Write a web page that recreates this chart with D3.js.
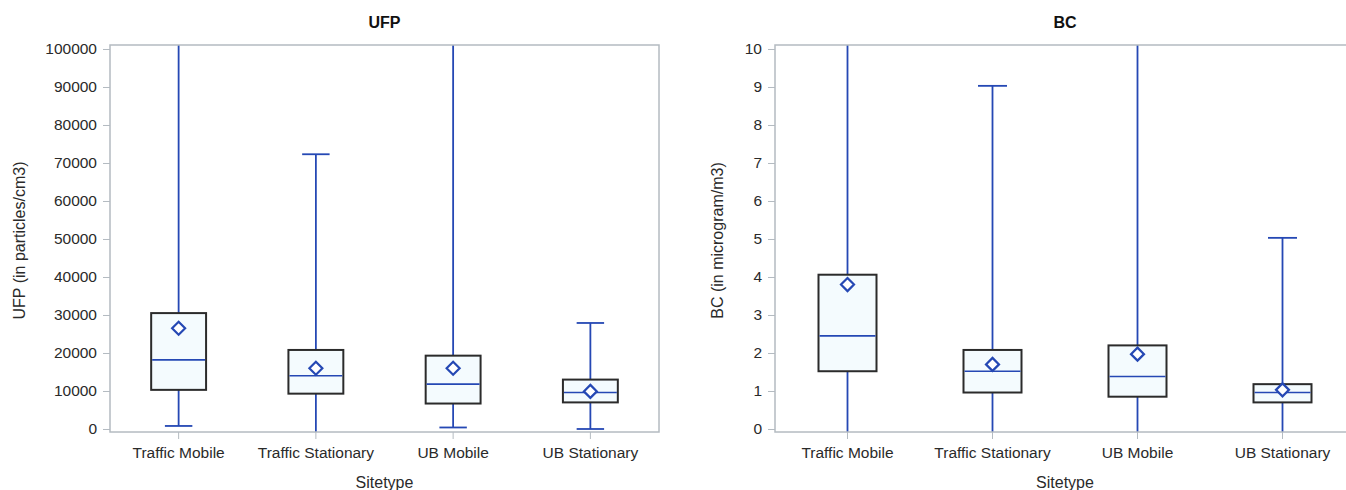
<!DOCTYPE html>
<html>
<head>
<meta charset="utf-8">
<script src="https://cdn.jsdelivr.net/npm/d3@7.9.0/dist/d3.min.js"></script>
<style>
  body { margin: 0; background: #fff; }
  svg { display: block; font-family: "Liberation Sans", Arial, sans-serif; }
  .tick text { fill: #2a2a2a; font-size: 15.5px; }
  .tick line { stroke: #b4bbc1; }
</style>
</head>
<body>
<svg id="chart" width="1346" height="490"></svg>
<script>
// ---------- Data ----------
const sitetypes = ["Traffic Mobile", "Traffic Stationary", "UB Mobile", "UB Stationary"];

// UFP (particles/cm3) - whisker ends past the axis are clipped
const ufpMin    = [800, -3000, 400, 0];
const ufpQ1     = [10300, 9300, 6700, 7000];
const ufpMedian = [18200, 14000, 11800, 9600];
const ufpQ3     = [30500, 20800, 19300, 13000];
const ufpMax    = [260000, 72300, 240000, 27900];
const ufpMean   = [26500, 16000, 16000, 9900];
const ufpTicks  = [0, 10000, 20000, 30000, 40000, 50000, 60000, 70000, 80000, 90000, 100000];

// BC (microgram/m3)
const bcMin    = [-0.3, -0.3, -0.3, -0.3];
const bcQ1     = [1.52, 0.96, 0.85, 0.70];
const bcMedian = [2.45, 1.52, 1.38, 0.96];
const bcQ3     = [4.06, 2.08, 2.20, 1.18];
const bcMax    = [30, 9.03, 28, 5.03];
const bcMean   = [3.80, 1.70, 1.97, 1.03];
const bcTicks  = [0, 1, 2, 3, 4, 5, 6, 7, 8, 9, 10];

// ---------- Style ----------
const blue = "#2548b4";
const boxFill = "#f4fbfe";
const boxStroke = "#2b2b2b";
const frameColor = "#b4bbc1";

const svg = d3.select("#chart");
svg.append("rect").attr("width", 1346).attr("height", 490).attr("fill", "#fff");

// ---------- Panel renderer ----------
function drawPanel(opt) {
  const { id, left, right, top, bottom, title, yLabel, yLabelX, domain, ticks, stats } = opt;

  const x = d3.scaleBand().domain(sitetypes).range([left, right]);
  const y = d3.scaleLinear().domain(domain).range([bottom, top]);
  const g = svg.append("g");

  // clip for whiskers that run off the plot
  svg.append("clipPath").attr("id", id)
    .append("rect")
    .attr("x", left).attr("y", top)
    .attr("width", right - left).attr("height", bottom - top);

  // y axis
  const yAxis = g.append("g")
    .attr("transform", `translate(${left},0)`)
    .call(d3.axisLeft(y).tickValues(ticks).tickSize(7).tickPadding(6).tickFormat(d3.format("d")));
  yAxis.select(".domain").remove();

  // x axis
  const xAxis = g.append("g")
    .attr("transform", `translate(0,${bottom})`)
    .call(d3.axisBottom(x).tickSize(7).tickPadding(8));
  xAxis.select(".domain").remove();

  // boxes
  const rows = sitetypes.map((s, i) => ({
    s, min: stats.min[i], q1: stats.q1[i], med: stats.median[i],
    q3: stats.q3[i], max: stats.max[i], mean: stats.mean[i]
  }));
  const bw = x.bandwidth() * 0.4;
  const cw = x.bandwidth() * 0.2;
  const plot = g.append("g").attr("clip-path", `url(#${id})`);

  rows.forEach(d => {
    const cx = x(d.s) + x.bandwidth() / 2;
    const b = plot.append("g");
    // whiskers
    b.append("line").attr("x1", cx).attr("x2", cx)
      .attr("y1", y(d.q3)).attr("y2", y(d.max))
      .attr("stroke", blue).attr("stroke-width", 1.8);
    b.append("line").attr("x1", cx).attr("x2", cx)
      .attr("y1", y(d.q1)).attr("y2", y(d.min))
      .attr("stroke", blue).attr("stroke-width", 1.8);
    // caps
    [d.min, d.max].forEach(v => {
      b.append("line").attr("x1", cx - cw / 2).attr("x2", cx + cw / 2)
        .attr("y1", y(v)).attr("y2", y(v))
        .attr("stroke", blue).attr("stroke-width", 1.8);
    });
    // box
    b.append("rect")
      .attr("x", cx - bw / 2).attr("width", bw)
      .attr("y", y(d.q3)).attr("height", y(d.q1) - y(d.q3))
      .attr("fill", boxFill).attr("stroke", boxStroke).attr("stroke-width", 2);
    // median
    b.append("line").attr("x1", cx - bw / 2 + 1).attr("x2", cx + bw / 2 - 1)
      .attr("y1", y(d.med)).attr("y2", y(d.med))
      .attr("stroke", blue).attr("stroke-width", 1.6);
    // mean diamond
    const my = y(d.mean), r = 6.5;
    b.append("path")
      .attr("d", `M${cx},${my - r}L${cx + r},${my}L${cx},${my + r}L${cx - r},${my}Z`)
      .attr("fill", "#fff").attr("stroke", blue).attr("stroke-width", 2.2);
  });

  // frame
  g.append("rect")
    .attr("x", left).attr("y", top)
    .attr("width", right - left).attr("height", bottom - top)
    .attr("fill", "none").attr("stroke", frameColor).attr("stroke-width", 1.5);

  // titles
  g.append("text")
    .attr("x", (left + right) / 2).attr("y", 28)
    .attr("text-anchor", "middle")
    .attr("font-size", 16).attr("font-weight", "bold").attr("fill", "#111")
    .text(title);

  g.append("text")
    .attr("x", (left + right) / 2).attr("y", 488)
    .attr("text-anchor", "middle")
    .attr("font-size", 16).attr("fill", "#2a2a2a")
    .text("Sitetype");

  g.append("text")
    .attr("transform", `translate(${yLabelX},${(top + bottom) / 2 + 2}) rotate(-90)`)
    .attr("text-anchor", "middle")
    .attr("font-size", 16).attr("fill", "#2a2a2a")
    .text(yLabel);
}

drawPanel({
  id: "clip-ufp", left: 110, right: 659, top: 45, bottom: 432,
  title: "UFP", yLabel: "UFP (in particles/cm3)", yLabelX: 25,
  domain: [-790, 101050], ticks: ufpTicks,
  stats: { min: ufpMin, q1: ufpQ1, median: ufpMedian, q3: ufpQ3, max: ufpMax, mean: ufpMean }
});

drawPanel({
  id: "clip-bc", left: 775, right: 1355, top: 45, bottom: 432,
  title: "BC", yLabel: "BC (in microgram/m3)", yLabelX: 723,
  domain: [-0.079, 10.105], ticks: bcTicks,
  stats: { min: bcMin, q1: bcQ1, median: bcMedian, q3: bcQ3, max: bcMax, mean: bcMean }
});
</script>
</body>
</html>
